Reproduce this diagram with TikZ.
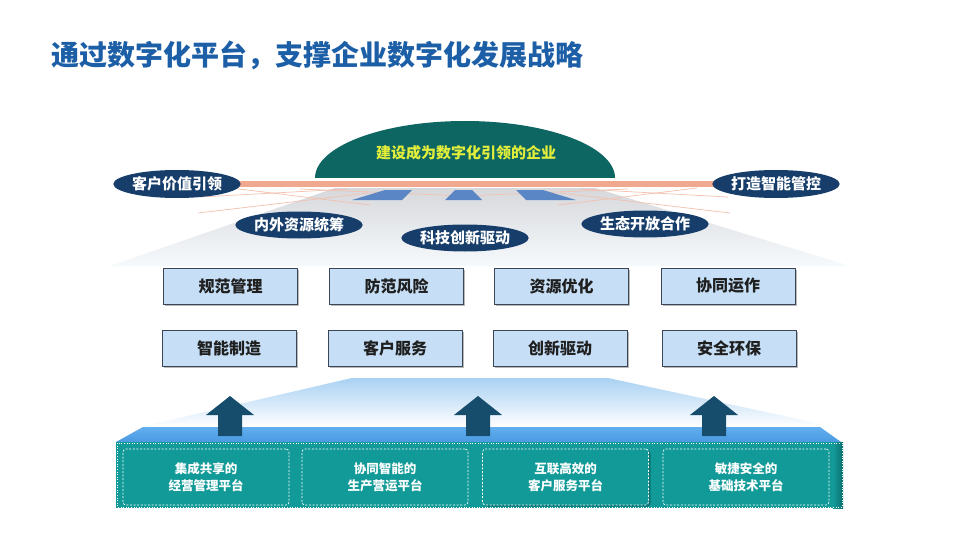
\documentclass[tikz,border=0pt]{standalone}
\usepackage{fontspec}
\setmainfont{Noto Sans CJK SC}
\usetikzlibrary{shapes.geometric,shadows}
\definecolor{titleblue}{HTML}{1C5FA6}
\definecolor{dometeal}{HTML}{0E6663}
\definecolor{domeyellow}{HTML}{E3EE3A}
\definecolor{navy}{HTML}{173E6B}
\definecolor{salmon}{HTML}{F0A88E}
\definecolor{thinpink}{HTML}{F3C0AE}
\definecolor{trapblue}{HTML}{5A86C5}
\definecolor{boxfill}{HTML}{C6DFF6}
\definecolor{boxline}{HTML}{3A4656}
\definecolor{arrowblue}{HTML}{164D6D}
\definecolor{topface}{HTML}{4A9AE2}
\definecolor{topfacel}{HTML}{62AEEE}
\definecolor{frontteal}{HTML}{129A98}
\definecolor{darkteal}{HTML}{0B6F70}
\definecolor{fanblue}{HTML}{A9D1F3}
\definecolor{fangray}{HTML}{D6D8DC}
\definecolor{fanmid}{HTML}{E8EBEF}
\definecolor{fanlow}{HTML}{F7FAFD}
\begin{document}
\begin{tikzpicture}[x=1pt,y=-1pt,
  ell/.style={ellipse, fill=navy, text=white, inner sep=0pt,
    minimum width=118pt, minimum height=28pt,
    font=\bfseries\fontsize{15}{17}\selectfont},
  goalbox/.style={draw=boxline, line width=0.8pt, fill=boxfill, inner sep=0pt,
    minimum width=134pt, minimum height=36pt,
    drop shadow={shadow xshift=1.8pt, shadow yshift=-1.8pt, fill=black!50, opacity=0.55},
    font=\bfseries\fontsize{16}{18}\selectfont, text=black!88},
  platbox/.style={draw=white, line width=0.7pt, dash pattern=on 2pt off 1.6pt,
    rounded corners=3pt, fill=frontteal, inner sep=0pt,
    minimum width=166pt, minimum height=56pt, align=center,
    font=\bfseries\fontsize{12.5}{17}\selectfont, text=white},
  thinline/.style={draw=thinpink, line width=0.7pt},
  uparrow/.style={fill=arrowblue}
]
\useasboundingbox (0,0) rectangle (960,540);
\fill[white] (0,0) rectangle (960,540);

% title
\node[anchor=west, text=titleblue, font=\bfseries\fontsize{28}{31}\selectfont, inner sep=0pt]
  (title) at (51,55) {通过数字化平台，支撑企业数字化发展战略};

% gray fan under the bar
\shade[top color=fangray, middle color=fanmid, bottom color=fanlow]
  (335,188) -- (595,188) -- (850,266) -- (110,266) -- cycle;

% thin perspective lines
\draw[thinline] (348,189) -- (200,197);
\draw[thinline] (368,193) -- (198,213);
\draw[thinline] (231,188) -- (370,205);
\draw[thinline] (580,189) -- (728,197);
\draw[thinline] (560,193) -- (730,213);
\draw[thinline] (697,188) -- (558,205);
\draw[thinline] (300,189) -- (464,196);
\draw[thinline] (628,189) -- (464,196);

% small blue trapezoids
\fill[trapblue] (385,190) -- (412,190) -- (402,200) -- (352,200) -- cycle;
\fill[trapblue] (455,190) -- (472,190) -- (482,200) -- (445,200) -- cycle;
\fill[trapblue] (543,190) -- (516,190) -- (526,200) -- (576,200) -- cycle;

% salmon bar
\fill[salmon] (175,181) rectangle (775,187);

% dome
\fill[dometeal] (315,178) arc[start angle=180, end angle=360, x radius=150, y radius=57] -- cycle;
\node[text=domeyellow, font=\bfseries\fontsize{15}{17}\selectfont] (goal) at (466,153) {建设成为数字化引领的企业};

% ellipses
\node[ell] (e1) at (177,184) {客户价值引领};
\node[ell] (e2) at (776,184) {打造智能管控};
\node[ell, minimum width=117pt, minimum height=27pt] (e3) at (299,225) {内外资源统筹};
\node[ell, minimum width=116pt, minimum height=27pt] (e4) at (465,238) {科技创新驱动};
\node[ell, minimum width=116pt, minimum height=27pt] (e5) at (645,224) {生态开放合作};

% goal boxes
\node[goalbox] (b1) at (230.5,286) {规范管理};
\node[goalbox] (b2) at (396.5,286) {防范风险};
\node[goalbox] (b3) at (561.5,286) {资源优化};
\node[goalbox] (b4) at (728,286) {协同运作};
\node[goalbox] (c1) at (229,348) {智能制造};
\node[goalbox] (c2) at (395,348) {客户服务};
\node[goalbox] (c3) at (560,348) {创新驱动};
\node[goalbox] (c4) at (729,348) {安全环保};

% light blue fan above platform
\shade[top color=fanblue, bottom color=white]
  (352,378) -- (608,378) -- (835,427) -- (140,427) -- cycle;

% platform top face
\shade[top color=topfacel, bottom color=topface]
  (143,427) -- (820,427) -- (841,442) -- (116,442) -- cycle;

% platform front face
\fill[frontteal] (116,442) rectangle (841,508);
\shade[left color=frontteal, right color=darkteal] (833,442) rectangle (843,508);
\draw[white, line width=0.6pt, dotted] (117,443) rectangle (842,507);

% arrows
\foreach \cx/\nm in {230/a1, 478/a2, 714/a3}{
  \fill[uparrow] (\cx,396) -- (\cx+24,415) -- (\cx+12,415) -- (\cx+12,436)
     -- (\cx-12,436) -- (\cx-12,415) -- (\cx-24,415) -- cycle;
}

% platform boxes
\node[platbox] (p1) at (206,477) {集成共享的\\经营管理平台};
\node[platbox] (p2) at (385,477) {协同智能的\\生产营运平台};
\node[platbox, drop shadow={shadow xshift=2pt, shadow yshift=-1.5pt, fill=darkteal, opacity=0.9, draw=none}] (p3) at (565.5,477) {互联高效的\\客户服务平台};
\node[platbox] (p4) at (746,477) {敏捷安全的\\基础技术平台};
\end{tikzpicture}
\end{document}
